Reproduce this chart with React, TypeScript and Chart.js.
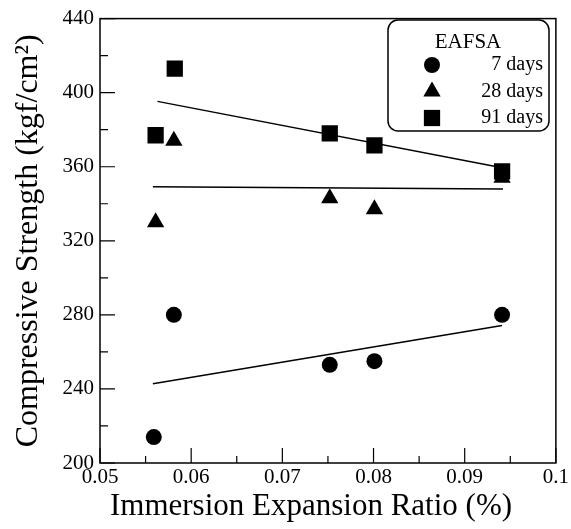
import { useEffect, useRef } from 'react';
import { Chart, registerables } from 'chart.js';

Chart.register(...registerables);

const FONT = '"Liberation Serif", "Times New Roman", serif';

const ratio7 = [0.0559, 0.0581, 0.0752, 0.0801, 0.0941];
const strength7 = [214, 280, 253, 255, 280];
const ratio28 = [0.0561, 0.0581, 0.0752, 0.0801, 0.0941];
const strength28 = [330, 374, 343, 337, 354];
const ratio91 = [0.0561, 0.0582, 0.0752, 0.0801, 0.0941];
const strength91 = [377, 413, 378, 371.5, 357.5];

const trend7X = [0.0558, 0.0941];
const trend7Y = [242.8, 274.3];
const trend28X = [0.0558, 0.0942];
const trend28Y = [349.2, 348.0];
const trend91X = [0.0563, 0.0941];
const trend91Y = [395.3, 359.5];

const seriesLabels = ['7 days', '28 days', '91 days'];
const legendTitle = 'EAFSA';
const xTitle = 'Immersion Expansion Ratio (%)';
const yTitle = 'Compressive Strength (kgf/cm\u00B2)';

const xMajor = [0.05, 0.06, 0.07, 0.08, 0.09, 0.1];
const xMinor = [0.055, 0.065, 0.075, 0.085, 0.095];
const yMajor = [200, 240, 280, 320, 360, 400, 440];
const yMinor = [220, 260, 300, 340, 380, 420];

const pts = (xs: number[], ys: number[]) => xs.map((x, i) => ({ x, y: ys[i] }));

const framePlugin = {
  id: 'frame',
  afterDatasetsDraw(chart: any) {
    const { ctx, chartArea: a, scales } = chart;
    const xs = scales.x;
    const ys = scales.y;
    ctx.save();
    ctx.strokeStyle = '#000';
    ctx.lineWidth = 1.5;
    ctx.strokeRect(a.left, a.top, a.right - a.left, a.bottom - a.top);
    ctx.lineWidth = 1.2;
    ctx.beginPath();
    xMajor.forEach((v) => {
      const p = xs.getPixelForValue(v);
      ctx.moveTo(p, a.bottom);
      ctx.lineTo(p, a.bottom - 15);
    });
    xMinor.forEach((v) => {
      const p = xs.getPixelForValue(v);
      ctx.moveTo(p, a.bottom);
      ctx.lineTo(p, a.bottom - 7);
    });
    yMajor.forEach((v) => {
      const p = ys.getPixelForValue(v);
      ctx.moveTo(a.left, p);
      ctx.lineTo(a.left + 15, p);
    });
    yMinor.forEach((v) => {
      const p = ys.getPixelForValue(v);
      ctx.moveTo(a.left, p);
      ctx.lineTo(a.left + 8, p);
    });
    ctx.stroke();
    // x axis title (offset left of the plot centre, as in the original)
    ctx.fillStyle = '#000';
    ctx.font = `31px ${FONT}`;
    ctx.textAlign = 'center';
    ctx.textBaseline = 'middle';
    ctx.fillText(xTitle, 311, 507);
    ctx.restore();
  },
};

function drawMarker(ctx: CanvasRenderingContext2D, style: string, x: number, y: number, r: number) {
  ctx.beginPath();
  if (style === 'circle') {
    ctx.arc(x, y, r, 0, Math.PI * 2);
  } else if (style === 'triangle') {
    ctx.moveTo(x, y - r);
    ctx.lineTo(x + r * Math.sin(Math.PI / 3), y + r / 2);
    ctx.lineTo(x - r * Math.sin(Math.PI / 3), y + r / 2);
    ctx.closePath();
  } else {
    const s = r * Math.SQRT1_2;
    ctx.rect(x - s, y - s, 2 * s, 2 * s);
  }
  ctx.fill();
}

const legendPlugin = {
  id: 'boxLegend',
  afterDraw(chart: any) {
    const { ctx } = chart;
    const x0 = 388, y0 = 20, w = 161, h = 111, rr = 10;
    ctx.save();
    ctx.fillStyle = '#fff';
    ctx.strokeStyle = '#000';
    ctx.lineWidth = 1.5;
    ctx.beginPath();
    ctx.roundRect(x0, y0, w, h, rr);
    ctx.fill();
    ctx.stroke();
    ctx.fillStyle = '#000';
    ctx.font = `21px ${FONT}`;
    ctx.textAlign = 'center';
    ctx.textBaseline = 'middle';
    ctx.fillText(legendTitle, 468, 42);
    const scatter = chart.data.datasets.filter((d: any) => d.isSeries);
    scatter.forEach((d: any, i: number) => {
      const y = 65 + i * 26.5;
      drawMarker(ctx, d.pointStyle, 432, y, d.legendRadius);
      ctx.font = `20px ${FONT}`;
      ctx.textAlign = 'right';
      ctx.fillText(d.label, 543, y);
    });
    ctx.restore();
  },
};

export default function App() {
  const ref = useRef<HTMLCanvasElement>(null);
  useEffect(() => {
    document.body.style.margin = '0';
    const canvas = ref.current!;
    const line = (xs: number[], ys: number[]) => ({
      type: 'line' as const,
      data: pts(xs, ys),
      borderColor: '#000',
      borderWidth: 1.5,
      pointRadius: 0,
      showLine: true,
      fill: false,
    });
    const chart = new Chart(canvas, {
      type: 'scatter',
      data: {
        datasets: [
          line(trend7X, trend7Y),
          line(trend28X, trend28Y),
          line(trend91X, trend91Y),
          {
            label: seriesLabels[0],
            data: pts(ratio7, strength7),
            pointStyle: 'circle',
            pointRadius: 8,
            backgroundColor: '#000',
            borderColor: '#000',
            borderWidth: 0,
            isSeries: true,
            legendRadius: 8,
          } as any,
          {
            label: seriesLabels[1],
            data: pts(ratio28, strength28),
            pointStyle: 'triangle',
            pointRadius: 10,
            backgroundColor: '#000',
            borderColor: '#000',
            borderWidth: 0,
            isSeries: true,
            legendRadius: 10,
          } as any,
          {
            label: seriesLabels[2],
            data: pts(ratio91, strength91),
            pointStyle: 'rect',
            pointRadius: 11.5,
            backgroundColor: '#000',
            borderColor: '#000',
            borderWidth: 0,
            isSeries: true,
            legendRadius: 11.5,
          } as any,
        ],
      },
      options: {
        animation: false,
        responsive: false,
        devicePixelRatio: 1,
        layout: { padding: { top: 14, right: 15, left: 0, bottom: 0 } },
        plugins: { legend: { display: false }, tooltip: { enabled: false } },
        scales: {
          x: {
            type: 'linear',
            min: 0.05,
            max: 0.1,
            grid: { display: false, drawTicks: false },
            border: { display: false },
            ticks: {
              stepSize: 0.01,
              padding: 2,
              color: '#000',
              font: { family: FONT, size: 21 },
              callback: (v: any) => String(+Number(v).toFixed(3)),
            },
            title: { display: false, text: xTitle },
            afterFit: (s: any) => {
              s.height = 66;
            },
          },
          y: {
            type: 'linear',
            min: 200,
            max: 440,
            grid: { display: false, drawTicks: false },
            border: { display: false },
            ticks: {
              stepSize: 40,
              padding: 6,
              color: '#000',
              font: { family: FONT, size: 21 },
            },
            title: {
              display: true,
              text: yTitle,
              color: '#000',
              font: { family: FONT, size: 32 },
              padding: { top: 9, bottom: 0 },
            },
            afterFit: (s: any) => {
              s.width = 100;
            },
          },
        },
      },
      plugins: [framePlugin, legendPlugin],
    });
    return () => chart.destroy();
  }, []);
  return <canvas ref={ref} width={571} height={529} style={{ display: 'block' }} />;
}
